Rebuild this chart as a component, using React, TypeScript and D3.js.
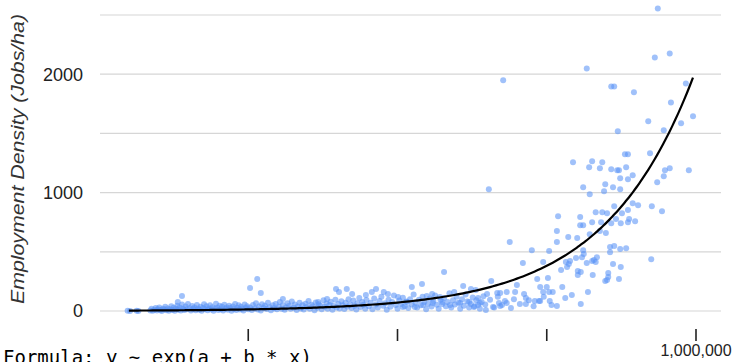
import React from 'react'
import * as d3 from 'd3'

// scatter points: [x, jobs/ha], x in thousands
const pointsLow = [
  [48, 3], [52, 1], [63, 2], [66, 0],
  [86, 5], [88, 18], [90, 2], [93, 10], [95, 25], [97, 4], [99, 14], [101, 30], [103, 8], [105, 0],
  [107, 20], [109, 12], [111, 35], [113, 6], [115, 22], [117, 3], [119, 15], [121, 40], [123, 9],
  [125, 28], [127, 2], [129, 18], [131, 45], [133, 11], [135, 30], [137, 5], [139, 55], [141, 20],
  [143, 8], [145, 38], [147, 14], [149, 60],
  [152, 24], [154, 4], [156, 42], [158, 16], [160, 30], [162, 7], [164, 50], [166, 20], [168, 10],
  [170, 36], [172, 2], [174, 26], [176, 58], [178, 14], [180, 40], [182, 6], [184, 22], [186, 48],
  [188, 12], [190, 32], [192, 3], [194, 18], [196, 62], [198, 27], [200, 8], [202, 44], [204, 15],
  [206, 35], [208, 5], [210, 52], [212, 20], [214, 30], [216, 10], [218, 45], [220, 25], [222, 2],
  [224, 38], [226, 16], [228, 60], [230, 8], [232, 28], [234, 48], [236, 12], [238, 35], [240, 20],
  [242, 4], [244, 55], [246, 26], [248, 40], [250, 14],
  [253, 30], [256, 8], [258, 50], [261, 22], [263, 65], [266, 12], [268, 38], [271, 4], [273, 56],
  [276, 26], [278, 44], [281, 16], [283, 70], [286, 32], [288, 6], [291, 48], [293, 24], [296, 60],
  [298, 14], [301, 36], [303, 75], [306, 20], [308, 50], [311, 10], [313, 30], [316, 66], [318, 42],
  [321, 18], [323, 80], [326, 28], [328, 55], [331, 8], [333, 38], [336, 70], [338, 22], [341, 48],
  [343, 12], [346, 62], [348, 34], [351, 85], [353, 18], [356, 52], [358, 40], [361, 6], [363, 72],
  [366, 28], [368, 58], [371, 44], [373, 14], [376, 90], [378, 36], [381, 64], [383, 20], [386, 50],
  [388, 78], [391, 10], [393, 42], [396, 95], [398, 30], [401, 60], [403, 22], [406, 82], [408, 48],
  [411, 16], [413, 70], [416, 36], [418, 100], [421, 55], [423, 26], [426, 88], [428, 44], [431, 12],
  [433, 66], [436, 110], [438, 34], [441, 76], [443, 52], [446, 20], [448, 92],
  [452, 40], [455, 70], [458, 15], [461, 105], [464, 55], [467, 30], [470, 85], [473, 120], [476, 45],
  [479, 65], [482, 10], [485, 95], [488, 35], [491, 75], [494, 130], [497, 50], [500, 20], [503, 88],
  [506, 60], [509, 112], [512, 40], [515, 80], [518, 25], [521, 100], [524, 55], [527, 140], [530, 70],
  [533, 30], [536, 95], [539, 48], [542, 120], [545, 75], [548, 15], [551, 60], [554, 105], [557, 38],
  [560, 85], [563, 130], [566, 52], [569, 20], [572, 95], [575, 60], [578, 110], [581, 40], [584, 75],
  [587, 150], [590, 30], [593, 90], [596, 55], [599, 120], [602, 70], [605, 20], [608, 100], [611, 45],
  [614, 140], [617, 80], [620, 30], [623, 60], [626, 115], [629, 40], [632, 90], [635, 50], [638, 20],
  [641, 75], [644, 125], [647, 55],
  [655, 95], [662, 30], [668, 120], [675, 50], [680, 85], [690, 25], [695, 100], [705, 60], [720, 90],
  [728, 40], [745, 120], [758, 50],
]

const pointsOutliers = [
  [132, 76], [139, 126], [253, 194], [265, 270], [271, 152], [308, 101], [367, 76], [382, 101],
  [397, 185], [402, 160], [415, 185], [424, 143], [447, 135], [457, 160], [464, 185], [477, 160],
  [484, 143], [501, 118],
]

const pointsMid = [
  [653, 1029], [688, 582], [725, 514], [754, 506], [710, 405], [744, 413], [578, 329], [657, 253],
  [524, 202], [541, 228], [610, 211], [700, 219], [734, 270], [752, 278], [739, 202], [750, 202],
  [595, 160], [623, 185], [631, 177], [558, 143], [549, 126], [571, 118], [650, 143], [667, 152],
  [672, 152], [683, 160], [697, 160], [712, 143], [715, 110], [730, 84], [737, 84], [715, 59],
  [683, 67], [670, 67], [672, 42], [660, 34], [648, 8], [638, 67], [628, 34], [635, 110], [620, 76],
  [605, 67], [588, 50], [575, 76], [559, 67], [543, 50], [529, 34], [516, 76], [509, 34],
]

const pointsHigh = [
  [794, 1256], [826, 1265], [821, 1214], [843, 1256], [839, 1206], [858, 1197], [868, 1189], [871, 1189],
  [883, 1214], [881, 1324], [886, 1324], [923, 1332], [894, 1147], [886, 1113], [873, 1121], [948, 1189],
  [956, 1206], [988, 1189], [946, 1138], [935, 1088], [848, 1071], [846, 1012], [861, 1045], [873, 1029],
  [811, 1045], [822, 987], [894, 911], [903, 894], [926, 885], [943, 843], [863, 885], [832, 835],
  [843, 835], [851, 826], [876, 826], [886, 852], [866, 776], [888, 776], [898, 759], [874, 742],
  [886, 750], [858, 742], [841, 750], [826, 750], [806, 793], [806, 725], [811, 725], [769, 801],
  [767, 675], [767, 582], [786, 624], [801, 616], [822, 649], [839, 675], [849, 658], [856, 540],
  [863, 548], [856, 497], [873, 523], [883, 531], [925, 438], [811, 514], [812, 481], [809, 455],
  [799, 447], [789, 422], [782, 413], [787, 396], [784, 371], [774, 346], [817, 405], [826, 422],
  [829, 430], [834, 455], [832, 413], [861, 396], [874, 371], [802, 337], [807, 329], [802, 304],
  [827, 304], [853, 320], [853, 287], [851, 261], [848, 253], [871, 270], [776, 202], [744, 160],
  [760, 160], [754, 160], [755, 84], [739, 84], [781, 110], [792, 135], [819, 160], [807, 59], [767, 42],
  [936, 2555], [931, 2142], [956, 2175], [817, 2049], [983, 1922], [858, 1897], [863, 1897], [896, 1847],
  [958, 1762], [995, 1644], [920, 1602], [975, 1585], [946, 1526], [869, 1518], [677, 1948],
]

const yTicks = [0, 500, 1000, 1500, 2000, 2500]
const yLabels = [0, 1000, 2000]
const xTicks = [250000, 500000, 750000, 1000000]
const xLabels = [1000000]

// fitted exponential y ~ exp(a + b * x)
const fitA = 0.92
const fitB = 6.7e-6
const fitRange = [50000, 995000]

const width = 740
const height = 362

export default function App() {
  const x = d3.scaleLinear().domain([0, 1000000]).range([99, 696])
  const y = d3.scaleLinear().domain([0, 2500]).range([311, 15])

  const all = [...pointsLow, ...pointsOutliers, ...pointsMid, ...pointsHigh]

  const curveXs = d3.range(fitRange[0], fitRange[1] + 1, 5000)
  const line = d3.line<number>()
    .x(d => x(d))
    .y(d => y(Math.exp(fitA + fitB * d)))
    .curve(d3.curveMonotoneX)

  return (
    <svg width={width} height={height} style={{ position: 'absolute', left: 0, top: 0 }}
      fontFamily="'Liberation Sans', Arial, sans-serif">
      {yTicks.map(t => (
        <line key={t} x1={100} x2={721} y1={y(t)} y2={y(t)} stroke="#d6d6d6" strokeWidth={1.2} />
      ))}
      {yLabels.map(t => (
        <text key={t} x={83} y={y(t)} dy="0.36em" textAnchor="end" fontSize={18} fill="#222">{t}</text>
      ))}
      <text transform={`translate(24,159) rotate(-90)`} textAnchor="middle" fontSize={19}
        textLength={290} lengthAdjust="spacingAndGlyphs"
        fontStyle="italic" fill="#333">Employment Density (Jobs/ha)</text>
      {xTicks.map(t => (
        <line key={t} x1={x(t)} x2={x(t)} y1={329} y2={341} stroke="#222" strokeWidth={1.6} />
      ))}
      {xLabels.map(t => (
        <text key={t} x={x(t)} y={356} textAnchor="middle" fontSize={16} fill="#222">{d3.format(',')(t)}</text>
      ))}
      <g>
        {all.map((p, i) => (
          <circle key={i} cx={x(p[0] * 1000)} cy={y(p[1])} r={3} fill="#5c95f7" fillOpacity={0.58} />
        ))}
      </g>
      <path d={line(curveXs) || ''} fill="none" stroke="#000" strokeWidth={2.2} />
      <text x={3} y={364} fontSize={19} fontFamily="'DejaVu Sans Mono', monospace" fill="#000">
        Formula: y ~ exp(a + b * x)
      </text>
    </svg>
  )
}
